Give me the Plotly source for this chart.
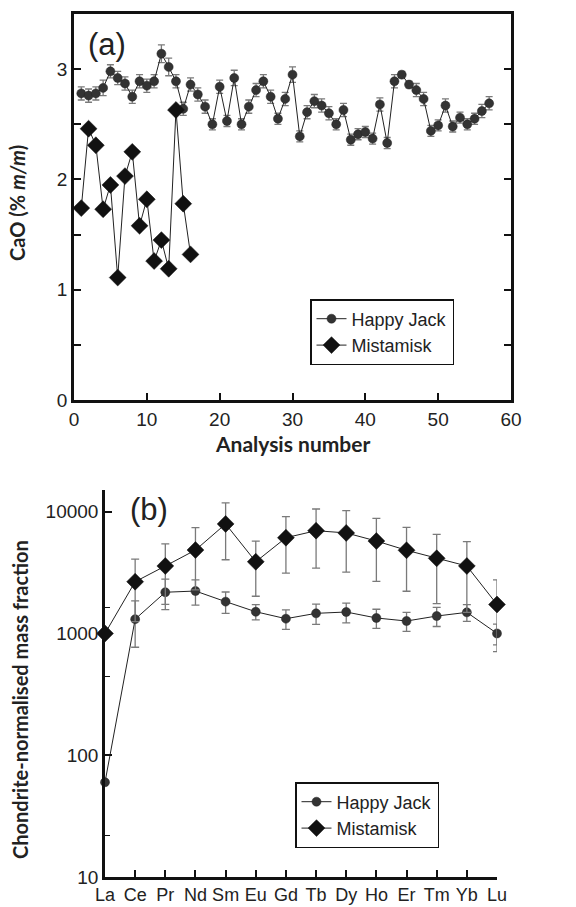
import plotly.graph_objects as go

# ---------------- Panel (a) data ----------------
hj_a_x = list(range(1, 58))
hj_a_y = [2.78, 2.76, 2.78, 2.83, 2.98, 2.92, 2.87, 2.75, 2.89, 2.85,
          2.89, 3.14, 3.02, 2.89, 2.64, 2.86, 2.77, 2.66, 2.50, 2.84,
          2.53, 2.92, 2.50, 2.66, 2.81, 2.89, 2.75, 2.55, 2.73, 2.95,
          2.39, 2.61, 2.71, 2.67, 2.60, 2.50, 2.63, 2.36, 2.41, 2.43,
          2.37, 2.68, 2.33, 2.89, 2.95, 2.86, 2.81, 2.73, 2.44, 2.49,
          2.67, 2.48, 2.56, 2.50, 2.55, 2.62, 2.69]
hj_a_err = [0.06, 0.06, 0.06, 0.07, 0.06, 0.06, 0.06, 0.06, 0.06, 0.06,
            0.06, 0.08, 0.08, 0.06, 0.06, 0.06, 0.06, 0.06, 0.05, 0.06,
            0.05, 0.07, 0.05, 0.06, 0.06, 0.06, 0.06, 0.05, 0.06, 0.07,
            0.05, 0.06, 0.06, 0.06, 0.06, 0.05, 0.06, 0.05, 0.05, 0.05,
            0.05, 0.06, 0.05, 0.06, 0.03, 0.03, 0.06, 0.06, 0.05, 0.05,
            0.06, 0.05, 0.05, 0.05, 0.05, 0.06, 0.06]
mi_a_x = list(range(1, 17))
mi_a_y = [1.74, 2.46, 2.31, 1.73, 1.95, 1.11, 2.03, 2.25, 1.58, 1.82,
          1.26, 1.45, 1.19, 2.63, 1.78, 1.32]

# ---------------- Panel (b) data ----------------
ree = ["La", "Ce", "Pr", "Nd", "Sm", "Eu", "Gd", "Tb", "Dy", "Ho", "Er", "Tm", "Yb", "Lu"]
hj_b_y = [60, 1310, 2180, 2230, 1825, 1507, 1322, 1463, 1500, 1340, 1265, 1390, 1490, 1000]
hj_b_err = [0, 540, 610, 520, 365, 215, 240, 278, 277, 240, 225, 250, 235, 195]
mi_b_y = [1000, 2660, 3580, 4840, 7930, 3880, 6110, 6980, 6690, 5740, 4820, 4140, 3580, 1730]
mi_b_err = [0, 1410, 1850, 2560, 3900, 1860, 2980, 3540, 3500, 3060, 2600, 2380, 2090, 1020]

W, H = 576, 907
TICKFONT = dict(family="Liberation Sans, Arial, sans-serif", size=19, color="#222")
TITLEFONT = dict(family="Lato, Open Sans, sans-serif", size=20, color="#222")
HJ_COL = "#333333"
MI_COL = "#111111"
ERR_COL = "#7a7a7a"

fig = go.Figure()

fig.add_trace(go.Scatter(
    x=hj_a_x, y=hj_a_y, mode="lines+markers", name="Happy Jack",
    line=dict(color="#222", width=1),
    marker=dict(symbol="circle", size=9, color=HJ_COL, line=dict(color="#222", width=0.5)),
    error_y=dict(type="data", array=hj_a_err, color=ERR_COL, thickness=1.3, width=3.5),
    xaxis="x", yaxis="y", legend="legend", cliponaxis=False))
fig.add_trace(go.Scatter(
    x=mi_a_x, y=mi_a_y, mode="lines+markers", name="Mistamisk",
    line=dict(color="#222", width=1),
    marker=dict(symbol="diamond", size=13, color=MI_COL, line=dict(color="#111", width=0.5)),
    xaxis="x", yaxis="y", legend="legend", cliponaxis=False))

fig.add_trace(go.Scatter(
    x=ree, y=hj_b_y, mode="lines+markers", name="Happy Jack",
    line=dict(color="#222", width=1),
    marker=dict(symbol="circle", size=9, color=HJ_COL, line=dict(color="#222", width=0.5)),
    error_y=dict(type="data", array=hj_b_err, color=ERR_COL, thickness=1.3, width=4),
    xaxis="x2", yaxis="y2", legend="legend2", cliponaxis=False))
fig.add_trace(go.Scatter(
    x=ree, y=mi_b_y, mode="lines+markers", name="Mistamisk",
    line=dict(color="#222", width=1),
    marker=dict(symbol="diamond", size=13, color=MI_COL, line=dict(color="#111", width=0.5)),
    error_y=dict(type="data", array=mi_b_err, color=ERR_COL, thickness=1.3, width=4),
    xaxis="x2", yaxis="y2", legend="legend2", cliponaxis=False))

axline = dict(showline=True, linecolor="#111", linewidth=2.5, showgrid=False, zeroline=False,
              tickfont=TICKFONT, tickcolor="#111", automargin=False)

fig.update_layout(
    width=W, height=H,
    margin=dict(l=0, r=0, t=0, b=0),
    paper_bgcolor="white", plot_bgcolor="white",
    xaxis=dict(axline, domain=[74 / W, 511 / W], range=[0, 60], tickvals=[0, 10, 20, 30, 40, 50, 60],
               ticks="inside", ticklen=7, tickwidth=1.5, mirror=True, anchor="y", ticklabelstandoff=0),
    yaxis=dict(axline, domain=[1 - 400 / H, 1 - 14 / H], range=[0, 3.5], tickvals=[0, 1, 2, 3],
               ticks="inside", ticklen=7, tickwidth=1.5, mirror="ticks", anchor="x",
               minor=dict(dtick=0.5, ticks="inside", ticklen=7, tickwidth=1.5, tickcolor="#111")),
    xaxis2=dict(axline, domain=[105 / W, 497 / W], type="category", range=[0, 13],
                ticks="inside", ticklen=7, tickwidth=1.5, anchor="y2", tickfont=dict(TICKFONT, size=18)),
    yaxis2=dict(axline, domain=[1 - 877 / H, 1 - 490 / H], type="log", range=[1, 4.178],
                tickvals=[10, 100, 1000, 10000], ticktext=["10", "100", "1000", "10000"],
                ticks="inside", ticklen=7, tickwidth=1.5, anchor="x2",
                minor=dict(tickvals=[22, 440, 1620], ticks="inside", ticklen=5, tickwidth=1.2, tickcolor="#111")),
    legend=dict(x=310 / W, y=1 - 299 / H, xanchor="left", yanchor="top",
                bordercolor="#111", borderwidth=1.5, bgcolor="white",
                font=dict(family="Liberation Sans, Arial, sans-serif", size=18, color="#222"),
                tracegroupgap=0),
    legend2=dict(x=295 / W, y=1 - 782 / H, xanchor="left", yanchor="top",
                 bordercolor="#111", borderwidth=1.5, bgcolor="white",
                 font=dict(family="Liberation Sans, Arial, sans-serif", size=18, color="#222"),
                 tracegroupgap=0),
    showlegend=True,
)

annos = [
    dict(text="(a)", x=86 / W, y=1 - 44 / H, xanchor="left", yanchor="middle",
         font=dict(family="Liberation Sans, Arial, sans-serif", size=31, color="#222")),
    dict(text="(b)", x=128 / W, y=1 - 509 / H, xanchor="left", yanchor="middle",
         font=dict(family="Liberation Sans, Arial, sans-serif", size=31, color="#222")),
    dict(text="<b>CaO (% <i>m/m</i>)</b>", x=17 / W, y=1 - 203 / H, xanchor="center", yanchor="middle",
         textangle=-90, font=TITLEFONT),
    dict(text="<b>Analysis number</b>", x=292 / W, y=1 - 443 / H, xanchor="center", yanchor="middle",
         font=dict(TITLEFONT, size=21)),
    dict(text="<b>Chondrite-normalised mass fraction</b>", x=20 / W, y=1 - 700 / H,
         xanchor="center", yanchor="middle", textangle=-90, font=TITLEFONT),
]
for a in annos:
    a.update(xref="paper", yref="paper", showarrow=False)
fig.update_layout(annotations=annos)

fig.write_html("out.html", config={"displayModeBar": False},
               post_script="document.body.style.margin='0px';")
